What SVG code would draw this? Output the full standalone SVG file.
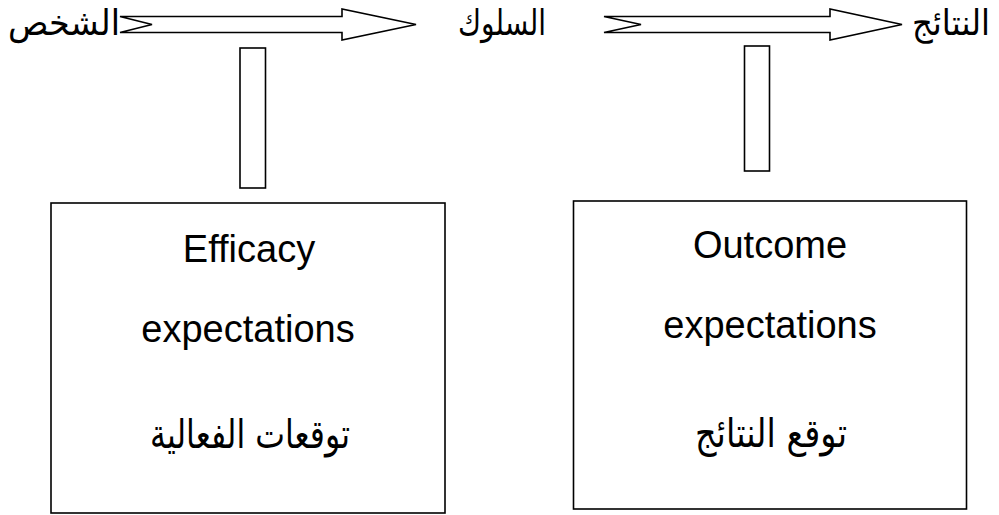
<svg xmlns="http://www.w3.org/2000/svg" width="999" height="515" viewBox="0 0 999 515">
<style>
.s{fill:#fff;stroke:#000;stroke-width:1.6}
.en{font-family:"Liberation Sans",Arial,sans-serif;font-size:38px;fill:#000;text-anchor:middle}
.ar{font-family:"DejaVu Sans","Noto Sans",sans-serif;font-size:40px;fill:#000;text-anchor:middle;direction:rtl}
.top{font-size:35px}
</style>
<rect width="999" height="515" fill="#fff"/>
<g id="connectors">
<polygon class="s" points="120,16.5 342,16.5 342,9 416,24.5 342,40 342,32.5 120,32.5 152,24.5"/>
<polygon class="s" points="604,16.5 830,16.5 830,9 902,24.5 830,40 830,32.5 604,32.5 641,24.5"/>
<rect class="s" x="240" y="48" width="25.5" height="140"/>
<rect class="s" x="744.5" y="46" width="25" height="125"/>
</g>
<g id="person"><text class="ar top" x="64" y="35" textLength="112" lengthAdjust="spacingAndGlyphs">الشخص</text></g>
<g id="behavior"><text class="ar top" x="502" y="35" textLength="88" lengthAdjust="spacingAndGlyphs">السلوك</text></g>
<g id="outcomes"><text class="ar top" x="951" y="35" textLength="78" lengthAdjust="spacingAndGlyphs">النتائج</text></g>
<g id="efficacy">
<rect class="s" x="51" y="203" width="394" height="310"/>
<text class="en" x="249" y="262">Efficacy</text>
<text class="en" x="248" y="342">expectations</text>
<text class="ar" x="250" y="448" textLength="200" lengthAdjust="spacingAndGlyphs">توقعات الفعالية</text>
</g>
<g id="outcome">
<rect class="s" x="573.5" y="201" width="393" height="308"/>
<text class="en" x="770" y="258">Outcome</text>
<text class="en" x="770" y="338">expectations</text>
<text class="ar" x="771" y="447" textLength="152" lengthAdjust="spacingAndGlyphs">توقع النتائج</text>
</g>
</svg>
